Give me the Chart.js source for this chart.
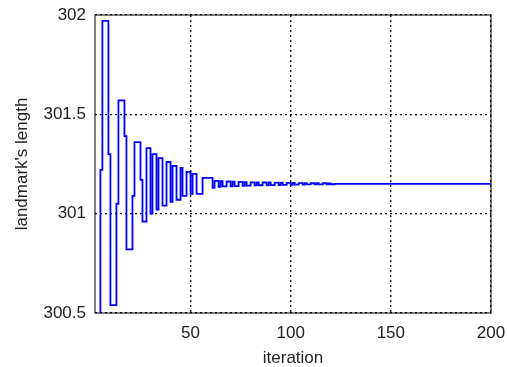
<!DOCTYPE html>
<html>
<head>
<meta charset="utf-8">
<script src="https://cdn.jsdelivr.net/npm/chart.js@4.4.1/dist/chart.umd.min.js"></script>
<style>
    html, body { margin: 0; padding: 0; background: #fff; }
    #wrap { width: 507px; height: 367px; }
</style>
</head>
<body>
<div id="wrap"><canvas id="graph" width="507" height="367"></canvas></div>
<script>
// change points of the stair plot (iteration where the value switches, new value)
const iterations = [
    3, 5, 6, 9, 10, 13, 14, 17, 18, 21, 22, 25, 26,
    28, 30, 31, 33, 34, 36, 38, 40, 41, 43, 45, 46, 48, 50, 51, 53, 56, 61,
    62, 64, 65, 66, 68, 70, 71, 72, 74, 76, 77, 78, 80, 82, 83, 84,
    86, 88, 89, 90, 92, 94, 95, 96, 98, 100, 101, 102, 104, 106,
    107, 108, 110, 112, 113, 114, 116, 118, 119, 120, 122, 200
];
const lengths = [
    300.3, 301.22, 301.97, 301.30, 300.54, 301.05, 301.57, 301.39, 300.82, 301.09, 301.36, 301.17, 300.96,
    301.33, 301.00, 301.30, 301.02, 301.28, 301.04, 301.26, 301.06, 301.24, 301.07, 301.23, 301.09, 301.21, 301.10, 301.20, 301.10, 301.18, 301.13,
    301.165, 301.135, 301.164, 301.137, 301.162, 301.138, 301.161, 301.139, 301.16, 301.14, 301.159, 301.141, 301.158, 301.142, 301.158, 301.143,
    301.157, 301.143, 301.157, 301.144, 301.156, 301.144, 301.156, 301.145, 301.155, 301.145, 301.155, 301.146, 301.154, 301.146,
    301.154, 301.147, 301.153, 301.147, 301.153, 301.147, 301.153, 301.148, 301.152, 301.148, 301.15, 301.15
];
const xTicks = [50, 100, 150, 200];
const yTicks = [300.5, 301, 301.5, 302];

const points = iterations.map((it, i) => ({ x: it, y: lengths[i] }));

// white background and the gray box round the axes, grid is drawn over it
const axesBox = {
    id: "axesBox",
    beforeDraw(chart) {
        const { ctx, chartArea: a } = chart;
        ctx.save();
        ctx.fillStyle = "#fff";
        ctx.fillRect(0, 0, chart.width, chart.height);
        ctx.strokeStyle = "#555";
        ctx.lineWidth = 1.5;
        ctx.strokeRect(a.left, a.top, a.right - a.left, a.bottom - a.top);
        ctx.restore();
    },
};

const font = { family: "'Liberation Sans', Arial, sans-serif", size: 17 };

new Chart(document.getElementById("graph").getContext("2d"), {
    type: "line",
    data: {
        datasets: [
            {
                data: points,
                borderColor: "#0000ff",
                borderWidth: 1.8,
                pointRadius: 0,
                stepped: true,
                fill: false,
            },
        ],
    },
    options: {
        responsive: false,
        animation: false,
        layout: { padding: { top: 15, right: 16, left: 0, bottom: 0 } },
        plugins: {
            legend: { display: false },
            tooltip: { enabled: false },
        },
        scales: {
            x: {
                type: "linear",
                min: 2.3,
                max: 200,
                afterBuildTicks: (scale) => {
                    scale.ticks = xTicks.map((v) => ({ value: v }));
                },
                afterFit: (scale) => {
                    scale.height = 54;
                    // keep the plot box fixed, labels may hang over the edges
                    scale.paddingLeft = 0;
                    scale.paddingRight = 0;
                },
                ticks: {
                    color: "#222",
                    font: font,
                    padding: 10,
                    maxRotation: 0,
                    callback: (value) => String(value),
                },
                grid: { color: "#000", lineWidth: 1.3, drawTicks: false },
                border: { display: false, dash: [2, 3] },
                title: {
                    display: true,
                    text: "iteration",
                    color: "#222",
                    font: { ...font, lineHeight: 1 },
                    padding: { top: 0, bottom: 0 },
                },
            },
            y: {
                min: 300.5,
                max: 302,
                afterBuildTicks: (scale) => {
                    scale.ticks = yTicks.map((v) => ({ value: v }));
                },
                afterFit: (scale) => {
                    scale.width = 95;
                    scale.paddingTop = 0;
                    scale.paddingBottom = 0;
                },
                ticks: {
                    color: "#222",
                    font: font,
                    padding: 9,
                    callback: (value) => String(value),
                },
                grid: { color: "#000", lineWidth: 1.3, drawTicks: false },
                border: { display: false, dash: [2, 3] },
                title: {
                    display: true,
                    text: "landmark's length",
                    color: "#222",
                    font: { ...font, lineHeight: 1 },
                    padding: { top: 14, bottom: 0 },
                },
            },
        },
    },
    plugins: [axesBox],
});
</script>
</body>
</html>
